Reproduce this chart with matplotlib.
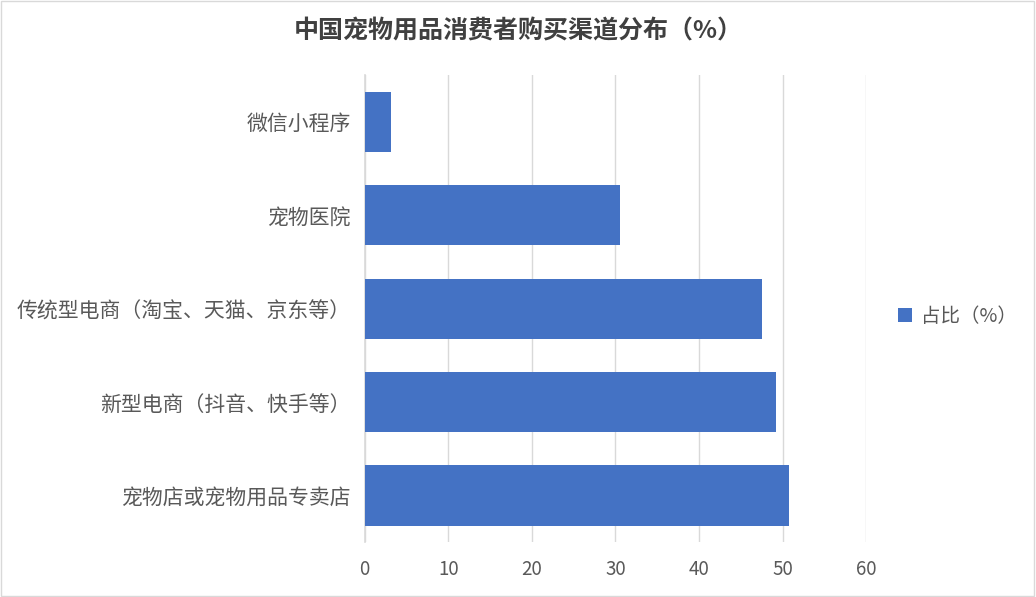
import matplotlib
matplotlib.use("Agg")
from matplotlib import pyplot as plt
from matplotlib.patches import Rectangle

plt.rcParams['font.family'] = ['Noto Sans CJK SC', 'DejaVu Sans']

channels = ["宠物店或宠物用品专卖店", "新型电商（抖音、快手等）", "传统型电商（淘宝、天猫、京东等）", "宠物医院", "微信小程序"]
shares = [50.8, 49.2, 47.6, 30.6, 3.2]
xticks = [0, 10, 20, 30, 40, 50, 60]
series_name = "占比（%）"
title = "中国宠物用品消费者购买渠道分布（%）"

text_color = "#595959"

fig = plt.figure(figsize=(10.36, 5.97), dpi=100)
ax = fig.add_axes([0.352, 0.092, 0.484, 0.782])

ax.barh(range(len(channels)), shares, height=0.645, color="#4472C4", label=series_name, zorder=3)

ax.set_xlim(0, 60)
ax.set_ylim(-0.5, len(channels) - 0.5)
ax.set_xticks(xticks)
ax.set_yticks(range(len(channels)))
ax.set_yticklabels(channels, fontsize=15)
ax.grid(axis="x", color="#d9d9d9", linewidth=1, zorder=0)
for s in ["top", "right", "bottom"]:
    ax.spines[s].set_visible(False)
ax.spines["left"].set_color("#d9d9d9")
ax.spines["left"].set_linewidth(1.2)
ax.tick_params(axis="both", length=0, colors=text_color)
ax.tick_params(axis="x", pad=12, labelsize=13.5)
ax.tick_params(axis="y", pad=10)

fig.text(0.5, 0.948, title, ha="center", va="center", fontsize=18, fontweight="bold", color="#404040")

fig.legend(loc="center left", bbox_to_anchor=(0.85, 0.47), frameon=False,
           fontsize=14, labelcolor=text_color, handlelength=0.7, handleheight=0.7,
           handletextpad=0.5)

# figure border
fig.patches.append(Rectangle((0.001, 0.002), 0.997, 0.996, transform=fig.transFigure,
                             fill=False, edgecolor="#d9d9d9", linewidth=1))

fig.savefig("out.png", dpi=100)
